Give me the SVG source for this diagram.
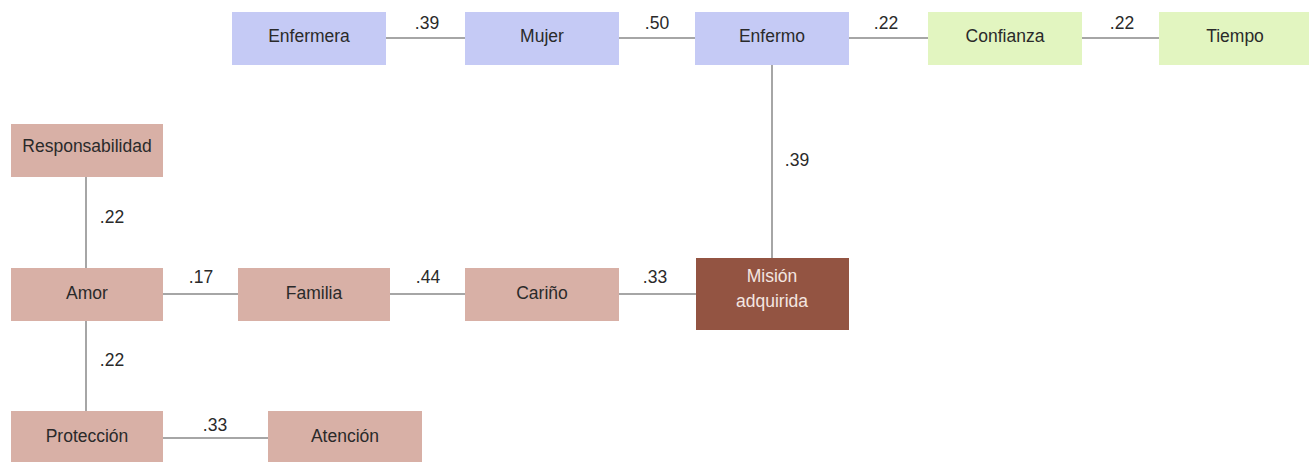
<svg xmlns="http://www.w3.org/2000/svg" width="1309" height="462" viewBox="0 0 1309 462">
<style>
.blue{fill:#c5caf5}
.green{fill:#e2f5c0}
.pink{fill:#d8b0a6}
.dark{fill:#935442}
text{font-family:"Liberation Sans",Arial,sans-serif;font-size:17.5px;text-anchor:middle;fill:#2a2a2a}
.lbl{font-size:17.5px}
.wt{fill:#f4e6e0}
.conn line{stroke:#a6a6a6;stroke-width:2}
</style>
<rect width="1309" height="462" fill="#ffffff"/>
<g class="conn" id="connectors">
<line x1="386" y1="38" x2="465" y2="38"/>
<line x1="619" y1="38" x2="695" y2="38"/>
<line x1="849" y1="38" x2="928" y2="38"/>
<line x1="1082" y1="38" x2="1159" y2="38"/>
<line x1="772" y1="64" x2="772" y2="258"/>
<line x1="86" y1="177" x2="86" y2="268"/>
<line x1="163" y1="294" x2="238" y2="294"/>
<line x1="390" y1="294" x2="465" y2="294"/>
<line x1="619" y1="294" x2="696" y2="294"/>
<line x1="86" y1="320" x2="86" y2="411"/>
<line x1="163" y1="438" x2="268" y2="438"/>
</g>
<g id="labels">
<text class="lbl" x="427" y="29">.39</text>
<text class="lbl" x="657" y="29">.50</text>
<text class="lbl" x="886" y="29">.22</text>
<text class="lbl" x="1122" y="29">.22</text>
<text class="lbl" x="797" y="166">.39</text>
<text class="lbl" x="112" y="223">.22</text>
<text class="lbl" x="201" y="283">.17</text>
<text class="lbl" x="428" y="283">.44</text>
<text class="lbl" x="655" y="283">.33</text>
<text class="lbl" x="112" y="366">.22</text>
<text class="lbl" x="215" y="431">.33</text>
</g>
<g id="enfermera"><rect class="blue" x="232" y="12" width="154" height="53"/><text x="309" y="42">Enfermera</text></g>
<g id="mujer"><rect class="blue" x="465" y="12" width="154" height="53"/><text x="542" y="42">Mujer</text></g>
<g id="enfermo"><rect class="blue" x="695" y="12" width="154" height="53"/><text x="772" y="42">Enfermo</text></g>
<g id="confianza"><rect class="green" x="928" y="12" width="154" height="53"/><text x="1005" y="42">Confianza</text></g>
<g id="tiempo"><rect class="green" x="1159" y="12" width="152" height="53"/><text x="1235" y="42">Tiempo</text></g>
<g id="responsabilidad"><rect class="pink" x="11" y="124" width="152" height="53"/><text x="87" y="152">Responsabilidad</text></g>
<g id="amor"><rect class="pink" x="11" y="268" width="152" height="53"/><text x="87" y="299">Amor</text></g>
<g id="familia"><rect class="pink" x="238" y="268" width="152" height="53"/><text x="314" y="299">Familia</text></g>
<g id="carino"><rect class="pink" x="465" y="268" width="154" height="53"/><text x="542" y="299">Cariño</text></g>
<g id="mision"><rect class="dark" x="696" y="258" width="153" height="72"/><text class="wt" x="772" y="282">Misión</text><text class="wt" x="772" y="307">adquirida</text></g>
<g id="proteccion"><rect class="pink" x="11" y="411" width="152" height="51"/><text x="87" y="442">Protección</text></g>
<g id="atencion"><rect class="pink" x="268" y="411" width="154" height="51"/><text x="345" y="442">Atención</text></g>
</svg>
